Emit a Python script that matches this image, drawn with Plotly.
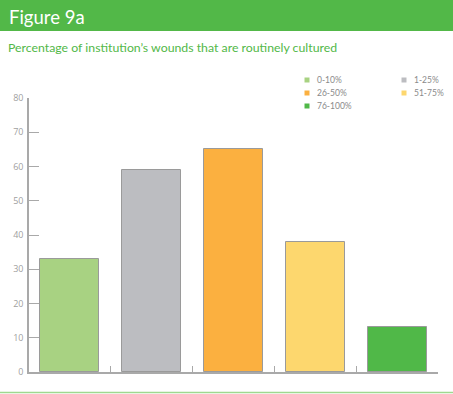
import plotly.graph_objects as go

# Survey categories and the share of respondents in each
categories = ["0-10%", "1-25%", "26-50%", "51-75%", "76-100%"]
values = [33, 59, 65, 38, 13]
colors = ["#a8d282", "#bcbdc1", "#fbb040", "#fdd76e", "#50b848"]
y_ticks = [0, 10, 20, 30, 40, 50, 60, 70, 80]

W, H = 453, 394
ML, MR, MT, MB = 29, 15, 98, 22

fig = go.Figure()
fig.add_trace(go.Bar(
    x=list(range(len(categories))),
    y=values,
    width=0.72,
    marker=dict(color=colors, line=dict(color="#9a9a9a", width=1)),
    showlegend=False,
    hoverinfo="skip",
))

axis_col = "#a9a9a9"
fig.update_layout(
    width=W, height=H,
    margin=dict(l=ML, r=MR, t=MT, b=MB),
    paper_bgcolor="white", plot_bgcolor="white",
    bargap=0,
    xaxis=dict(
        range=[-0.5, len(categories) - 0.5],
        tickvals=[i + 0.5 for i in range(len(categories))],
        showticklabels=False,
        ticks="inside", ticklen=6, tickcolor=axis_col, tickwidth=1,
        showline=True, linecolor=axis_col, linewidth=1.5,
        showgrid=False, zeroline=False, fixedrange=True,
    ),
    yaxis=dict(
        range=[0, 80],
        tickvals=y_ticks,
        ticks="inside", ticklen=10, tickcolor=axis_col, tickwidth=1,
        showline=True, linecolor=axis_col, linewidth=1.5,
        showgrid=False, zeroline=False, fixedrange=True,
        tickfont=dict(family="Open Sans", size=9, color="#a0a0a0"),
        ticklabelstandoff=2,
    ),
    font=dict(family="Lato"),
)

shapes = []
annotations = []


def px_x(x):
    return (x - ML) / (W - ML - MR)


def px_y(y):
    return (H - MB - y) / (H - MT - MB)


# Header band with figure label
shapes.append(dict(type="rect", xref="paper", yref="paper",
                   x0=px_x(0), x1=px_x(W), y0=px_y(31), y1=px_y(0),
                   fillcolor="#52b848", line=dict(width=0), layer="below"))

annotations.append(dict(text="Figure 9a", xref="paper", yref="paper",
                        x=px_x(7), y=px_y(17), xanchor="left", yanchor="middle",
                        showarrow=False, font=dict(family="Lato", size=18.5, color="white")))
annotations.append(dict(text="Percentage of institution\u2019s wounds that are routinely cultured",
                        xref="paper", yref="paper",
                        x=px_x(6), y=px_y(48), xanchor="left", yanchor="middle",
                        showarrow=False, font=dict(family="Lato", size=12.3, color="#52b848")))

# Bottom rule
shapes.append(dict(type="line", xref="paper", yref="paper",
                   x0=px_x(0), x1=px_x(W), y0=px_y(392.5), y1=px_y(392.5),
                   line=dict(color="#9fd88f", width=1.5)))

# Two-column legend
legend_pos = [(307, 80), (404, 80), (307, 93), (404, 93), (307, 106)]
for (lx, ly), name, col in zip(legend_pos, categories, colors):
    shapes.append(dict(type="rect", xref="paper", yref="paper",
                       x0=px_x(lx - 2.5), x1=px_x(lx + 2.5),
                       y0=px_y(ly + 2.5), y1=px_y(ly - 2.5),
                       fillcolor=col, line=dict(width=0)))
    annotations.append(dict(text=name, xref="paper", yref="paper",
                            x=px_x(lx + 8), y=px_y(ly), xanchor="left", yanchor="middle",
                            showarrow=False,
                            font=dict(family="Lato", size=8.5, color="#8a8a8a")))

fig.update_layout(shapes=shapes, annotations=annotations)
fig.write_html("out.html")
